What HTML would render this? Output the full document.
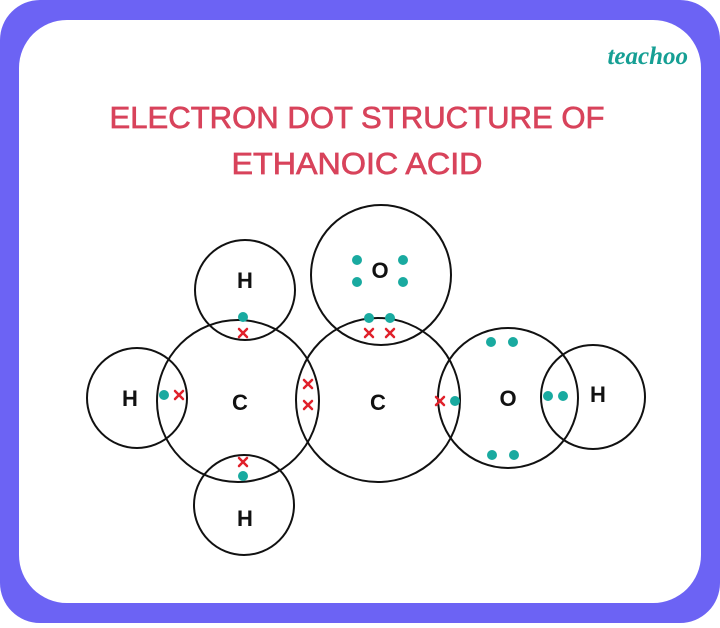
<!DOCTYPE html>
<html><head><style>
html,body{margin:0;padding:0;background:#fff;}
</style></head><body>
<svg width="720" height="623" viewBox="0 0 720 623" xmlns="http://www.w3.org/2000/svg" font-family="Liberation Sans, sans-serif">
<rect x="0" y="0" width="720" height="623" rx="40" fill="#6c63f4"/>
<rect x="19" y="20" width="682" height="583" rx="48" fill="#fff"/>
<text x="688" y="64" text-anchor="end" font-size="25" font-style="italic" font-weight="bold" fill="#169f94" font-family="Liberation Serif, serif">teachoo</text>
<text x="357" y="128" text-anchor="middle" font-size="31" fill="#d8435b" stroke="#d8435b" stroke-width="0.7" textLength="495" lengthAdjust="spacingAndGlyphs">ELECTRON DOT STRUCTURE OF</text>
<text x="357" y="174" text-anchor="middle" font-size="31" fill="#d8435b" stroke="#d8435b" stroke-width="0.7" textLength="251" lengthAdjust="spacingAndGlyphs">ETHANOIC ACID</text>
<g fill="none" stroke="#111" stroke-width="2">
<circle cx="238" cy="401" r="81"/>
<circle cx="378" cy="400" r="82"/>
<circle cx="245" cy="290" r="50"/>
<circle cx="244" cy="505" r="50"/>
<circle cx="137" cy="398" r="50"/>
<circle cx="381" cy="275" r="70"/>
<circle cx="508" cy="398" r="70"/>
<circle cx="593" cy="397" r="52"/>
</g>
<g font-size="22" font-weight="bold" fill="#111" text-anchor="middle">
<text x="245" y="288">H</text>
<text x="130" y="406">H</text>
<text x="240" y="410">C</text>
<text x="378" y="410">C</text>
<text x="508" y="406">O</text>
<text x="598" y="402">H</text>
<text x="245" y="526">H</text>
<text x="380" y="278">O</text>
</g>
<g fill="#19aaa0">
<circle cx="243" cy="317" r="5"/>
<circle cx="369" cy="318" r="5"/><circle cx="390" cy="318" r="5"/>
<circle cx="357" cy="260" r="5"/><circle cx="357" cy="282" r="5"/>
<circle cx="403" cy="260" r="5"/><circle cx="403" cy="282" r="5"/>
<circle cx="164" cy="395" r="5"/>
<circle cx="455" cy="401" r="5"/>
<circle cx="491" cy="342" r="5"/><circle cx="513" cy="342" r="5"/>
<circle cx="492" cy="455" r="5"/><circle cx="514" cy="455" r="5"/>
<circle cx="548" cy="396" r="5"/><circle cx="563" cy="396" r="5"/>
<circle cx="243" cy="476" r="5"/>
</g>
<g stroke="#e0202a" stroke-width="2.5" stroke-linecap="round">
<path d="M239 329l8 8M247 329l-8 8"/>
<path d="M365 329l8 8M373 329l-8 8"/>
<path d="M386 329l8 8M394 329l-8 8"/>
<path d="M175 391l8 8M183 391l-8 8"/>
<path d="M304 380l8 8M312 380l-8 8"/>
<path d="M304 401l8 8M312 401l-8 8"/>
<path d="M436 397l8 8M444 397l-8 8"/>
<path d="M239 458l8 8M247 458l-8 8"/>
</g>
</svg>
</body></html>
